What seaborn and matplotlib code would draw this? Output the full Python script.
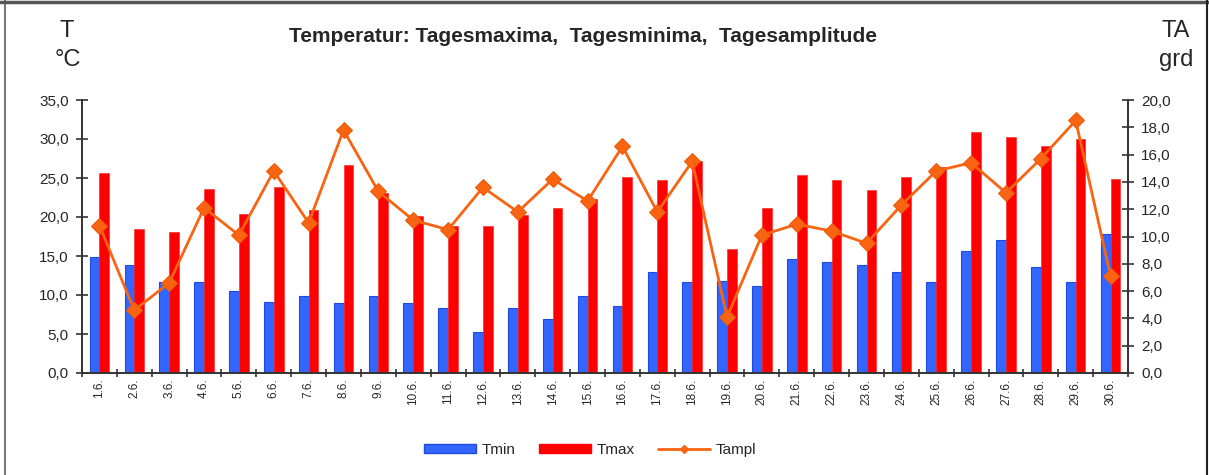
import numpy as np
import pandas as pd
import matplotlib
matplotlib.use('Agg')
import matplotlib.pyplot as plt
from matplotlib.ticker import FuncFormatter, MultipleLocator
from matplotlib.patches import Patch
from matplotlib.lines import Line2D
import seaborn as sns

# daily values for June
days = ['%d.6.' % d for d in range(1, 31)]
tmin = [14.9, 13.9, 11.7, 11.7, 10.5, 9.1, 9.9, 9.0, 9.9, 9.0,
        8.3, 5.3, 8.3, 6.9, 9.9, 8.6, 12.9, 11.7, 11.8, 11.1,
        14.6, 14.2, 13.9, 12.9, 11.7, 15.6, 17.1, 13.6, 11.7, 17.8]
tmax = [25.7, 18.4, 18.1, 23.6, 20.4, 23.9, 20.9, 26.7, 23.1, 20.1,
        18.9, 18.9, 20.3, 21.2, 22.3, 25.1, 24.7, 27.2, 15.9, 21.2,
        25.4, 24.7, 23.4, 25.1, 26.4, 30.9, 30.2, 29.1, 30.0, 24.9]
tampl = [10.8, 4.6, 6.6, 12.1, 10.1, 14.8, 11.0, 17.8, 13.3, 11.2,
         10.5, 13.6, 11.8, 14.2, 12.6, 16.6, 11.8, 15.5, 4.1, 10.1,
         10.9, 10.4, 9.5, 12.3, 14.8, 15.4, 13.2, 15.7, 18.5, 7.1]

blue = '#3366FF'
red = '#FF0000'
orange = '#F86412'

sns.set_theme(style='white')
plt.rcParams['font.family'] = ['Liberation Sans', 'DejaVu Sans']

df = pd.DataFrame({'Tag': days * 2,
                   'Wert': tmin + tmax,
                   'Reihe': ['Tmin'] * len(days) + ['Tmax'] * len(days)})

fig = plt.figure(figsize=(12.09, 4.75), dpi=100)
W, H = 1209, 475
ax = fig.add_axes([82 / W, 1 - 373 / H, (1128 - 82) / W, 273 / H])

sns.barplot(data=df, x='Tag', y='Wert', hue='Reihe',
            palette={'Tmin': blue, 'Tmax': red}, saturation=1,
            width=0.56, gap=0, legend=False, ax=ax)
for bar in ax.containers[0]:
    bar.set_edgecolor('#1F4CE0')
    bar.set_linewidth(0.8)
for bar in ax.containers[1]:
    bar.set_edgecolor('#FF3030')
    bar.set_linewidth(0.5)

ax2 = ax.twinx()
sns.lineplot(x=np.arange(len(days)), y=tampl, ax=ax2, color=orange,
             linewidth=2.0, marker='D', markersize=8,
             markeredgecolor='#EE5A08', markerfacecolor=orange)

ax.set_xlim(-0.5, len(days) - 0.5)
ax.set_ylim(0, 35)
ax2.set_ylim(0, 20)
ax.yaxis.set_major_locator(MultipleLocator(5))
ax2.yaxis.set_major_locator(MultipleLocator(2))
fmt = FuncFormatter(lambda v, p: ('%.1f' % v).replace('.', ','))
ax.yaxis.set_major_formatter(fmt)
ax2.yaxis.set_major_formatter(fmt)
ax.set_xlabel('')
ax.set_ylabel('')
ax2.set_ylabel('')

ax.set_xticks(np.arange(len(days)))
ax.set_xticklabels(days, rotation=90, fontsize=8.5)
ax.set_xticks(np.arange(len(days) + 1) - 0.5, minor=True)
ax.tick_params(axis='x', which='major', length=0, pad=4)
ax.tick_params(axis='x', which='minor', length=6, width=1.2,
               direction='inout', color='#333333', bottom=True)
ax.tick_params(axis='y', length=9, width=1.2, direction='inout',
               color='#333333', labelsize=11, pad=5, left=True)
ax2.tick_params(axis='y', length=9, width=1.2, direction='inout',
                color='#333333', labelsize=11, pad=5, right=True)

for a in (ax, ax2):
    a.spines['top'].set_visible(False)
    for s in ('left', 'right', 'bottom'):
        a.spines[s].set_color('#333333')
        a.spines[s].set_linewidth(1.4)
ax.spines['right'].set_visible(False)
ax2.spines['left'].set_visible(False)
ax2.spines['bottom'].set_visible(False)

fig.text(583 / W, 1 - 37 / H, 'Temperatur: Tagesmaxima,  Tagesminima,  Tagesamplitude',
         ha='center', va='center', fontsize=15, fontweight='bold')
fig.text(67 / W, 1 - 31 / H, 'T', ha='center', va='center', fontsize=17)
fig.text(68 / W, 1 - 60 / H, '°C', ha='center', va='center', fontsize=17)
fig.text(1176 / W, 1 - 31 / H, 'TA', ha='center', va='center', fontsize=17)
fig.text(1176 / W, 1 - 60 / H, 'grd', ha='center', va='center', fontsize=17)

handles = [Patch(facecolor=blue, edgecolor='#1F4CE0'),
           Patch(facecolor=red, edgecolor=red),
           Line2D([], [], color=orange, linewidth=2.0, marker='D', markersize=4)]
fig.legend(handles, ['Tmin', 'Tmax', 'Tampl'], loc='center',
           bbox_to_anchor=(590 / W, 1 - 450 / H), ncol=3, frameon=False,
           fontsize=11, handlelength=3.4, handleheight=0.45,
           handletextpad=0.4, columnspacing=1.5)

# outer frame
fig.add_artist(Line2D([5 / W, 5 / W], [0, 1], color='#777777', linewidth=1.5))
fig.add_artist(Line2D([0, 1], [1 - 2 / H, 1 - 2 / H], color='#555555', linewidth=2.5))
fig.add_artist(Line2D([1207 / W, 1207 / W], [0, 1], color='#222222', linewidth=1.5))

fig.savefig('out.png', dpi=100)
